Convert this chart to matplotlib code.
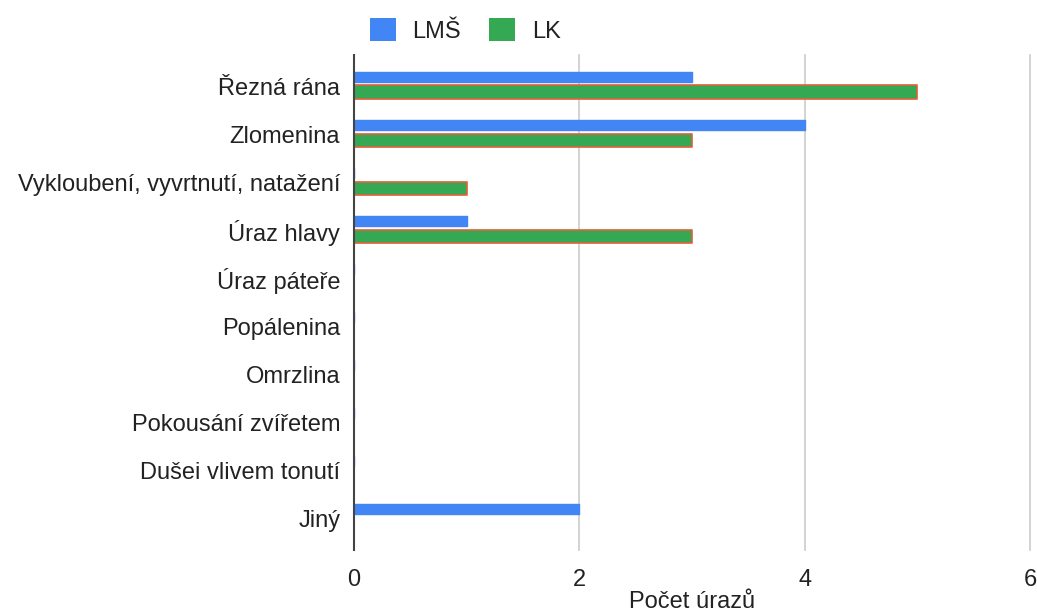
import numpy as np
import matplotlib.pyplot as plt
from matplotlib.patches import Patch

plt.rcParams['font.family'] = ['Liberation Sans', 'DejaVu Sans']

categories = ['Řezná rána', 'Zlomenina', 'Vykloubení, vyvrtnutí, natažení', 'Úraz hlavy',
              'Úraz páteře', 'Popálenina', 'Omrzlina', 'Pokousání zvířetem',
              'Dušei vlivem tonutí', 'Jiný']
lms = [3, 4, 0, 1, 0, 0, 0, 0, 0, 2]
lk = [5, 3, 1, 3, 0, 0, 0, 0, 0, 0]
series_names = ['LMŠ', 'LK']
xticks = [0, 2, 4, 6]

blue = '#4285f4'
green = '#34a853'
txt = '#222222'
fs = 17

fig = plt.figure(figsize=(10.37, 6.15), dpi=100)
ax = fig.add_axes([0.3414, 0.1057, 0.652, 0.805])

y = np.arange(len(categories))
ax.barh(y - 0.2, lms, height=0.21, color=blue, edgecolor=blue, linewidth=1,
        joinstyle='round', zorder=3)
ax.barh(y + 0.125, lk, height=0.28, color=green, edgecolor='#e0603a', linewidth=1.2,
        joinstyle='round', zorder=3)

ax.set_ylim(len(categories) - 0.35, -0.65)
ax.set_yticks(y)
ax.set_yticklabels(categories, fontsize=fs, color=txt)
ax.set_xlim(0, 6)
ax.set_xticks(xticks)
ax.set_xticklabels([str(t) for t in xticks], fontsize=fs, color=txt)
ax.tick_params(axis='both', length=0)
ax.tick_params(axis='x', pad=14)
ax.tick_params(axis='y', pad=10)
ax.grid(axis='x', color='#cccccc', linewidth=1.2, zorder=0)
for gl in ax.get_xgridlines():
    gl.set_clip_on(False)
for s in ['top', 'right', 'bottom']:
    ax.spines[s].set_visible(False)
ax.spines['left'].set_color('#444444')
ax.spines['left'].set_linewidth(1.5)
ax.spines['left'].set_zorder(4)
ax.set_xlabel('Počet úrazů', fontsize=fs, color=txt)
ax.xaxis.set_label_coords(0.5, -0.083)

handles = [Patch(facecolor=blue), Patch(facecolor=green)]
fig.legend(handles, series_names, loc='upper left', bbox_to_anchor=(0.336, 1.005), ncol=2,
           frameon=False, fontsize=fs, handlelength=1.1, handleheight=1.1,
           columnspacing=1.2, handletextpad=0.7, labelcolor=txt)

fig.savefig('out.png', dpi=100)
